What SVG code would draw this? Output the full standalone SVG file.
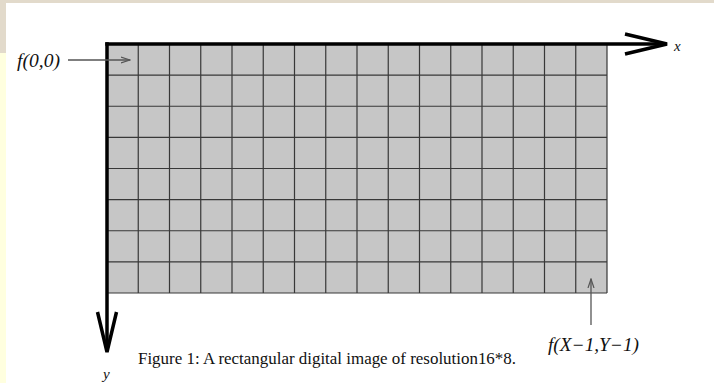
<svg xmlns="http://www.w3.org/2000/svg" width="714" height="383" viewBox="0 0 714 383">
<style>
.bg{fill:#ffffff}
.grid{stroke:#383838;stroke-width:1.2;fill:none}
.axis{stroke:#000;stroke-width:3.5;fill:none;stroke-linecap:butt}
.head{stroke:#000;stroke-width:3.5;fill:none;stroke-linejoin:miter}
.ptr{stroke:#555;stroke-width:1.3;fill:none}
.lbl{font-family:"Liberation Serif",serif;font-style:italic;fill:#111}
.cap{font-family:"Liberation Serif",serif;font-size:17px;fill:#111}
</style>
<defs>
<marker id="open" viewBox="0 0 10 10" refX="9" refY="5" markerWidth="10" markerHeight="10" markerUnits="userSpaceOnUse" orient="auto">
<path d="M0,2 L9,5 L0,8" fill="none" stroke="#555" stroke-width="1.2"/>
</marker>
</defs>
<rect class="bg" x="0" y="0" width="714" height="383"/>
<rect x="0" y="0" width="714" height="3" fill="#e2dacb"/>
<rect x="0" y="0" width="6" height="53" fill="#e2dacb"/>
<rect x="0" y="53" width="6" height="330" fill="#ffffdf"/>

<g id="image-grid">
<rect x="107" y="44" width="500" height="249" fill="#c6c6c6"/>
<path class="grid" d="M138.25,44V293M169.5,44V293M200.75,44V293M232,44V293M263.25,44V293M294.5,44V293M325.75,44V293M357,44V293M388.25,44V293M419.5,44V293M450.75,44V293M482,44V293M513.25,44V293M544.5,44V293M575.75,44V293M607,44V293
M107,75.1H607M107,106.25H607M107,137.4H607M107,168.5H607M107,199.6H607M107,230.75H607M107,261.9H607M107,293H607"/>
</g>

<g id="connectors">
<g id="x-axis">
<line class="axis" x1="105.3" y1="44" x2="666" y2="44"/>
<path class="head" d="M625,34 L667,44 L625,54"/>
</g>
<g id="y-axis">
<line class="axis" x1="107" y1="42.3" x2="107" y2="351"/>
<path class="head" d="M97.5,312 L107,352 L116.5,312"/>
</g>
<line class="ptr" x1="68" y1="60" x2="130" y2="60" marker-end="url(#open)"/>
<line class="ptr" x1="591" y1="325" x2="591" y2="279" marker-end="url(#open)"/>
</g>

<g id="label-x"><text class="lbl" x="674" y="51" font-size="15">x</text></g>
<g id="label-y"><text class="lbl" x="103" y="379" font-size="15">y</text></g>
<g id="label-f00"><text class="lbl" x="17" y="67" font-size="18" textLength="43" lengthAdjust="spacingAndGlyphs">f(0,0)</text></g>
<g id="label-fXY"><text class="lbl" x="548" y="351" font-size="18" textLength="91" lengthAdjust="spacingAndGlyphs">f(X−1,Y−1)</text></g>
<g id="caption"><text class="cap" x="138" y="364" textLength="378" lengthAdjust="spacingAndGlyphs">Figure 1: A rectangular digital image of resolution16*8.</text></g>
</svg>
